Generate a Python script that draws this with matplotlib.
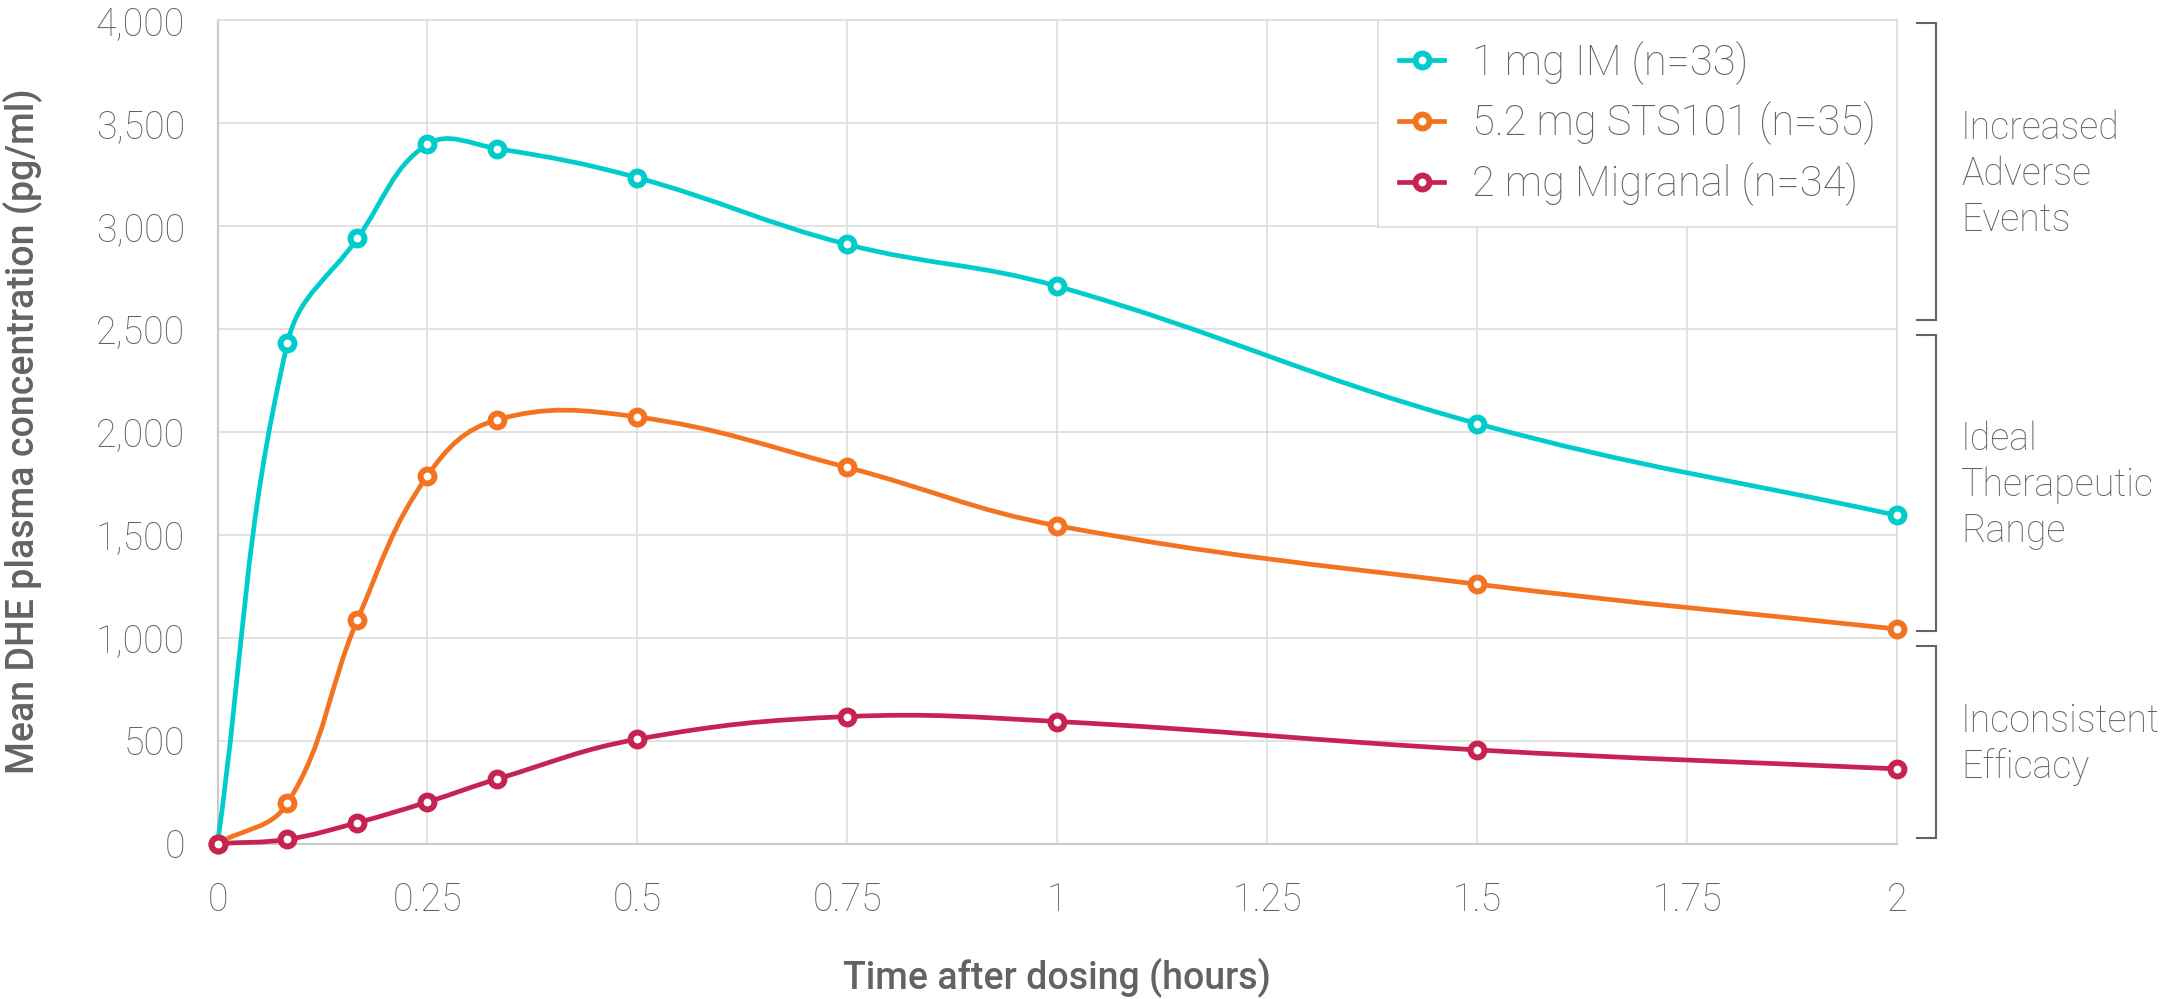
import numpy as np
import matplotlib
matplotlib.use("Agg")
import matplotlib.pyplot as plt
from matplotlib.path import Path
from matplotlib.patches import PathPatch
from matplotlib.lines import Line2D
from matplotlib import transforms
from matplotlib.ticker import FuncFormatter, FixedLocator

plt.rcParams['font.family'] = ['Roboto', 'DejaVu Sans']

# ---------------- data ----------------
time_h = [0, 5/60, 10/60, 15/60, 20/60, 30/60, 45/60, 1.0, 1.5, 2.0]
im_1mg = [0, 2432, 2939, 3396, 3375, 3234, 2910, 2707, 2040, 1594]
sts101 = [0, 196, 1087, 1787, 2059, 2072, 1827, 1544, 1260, 1042]
migranal = [0, 21, 102, 202, 314, 507, 617, 593, 455, 363]

series_labels = ["1 mg IM (n=33)", "5.2 mg STS101 (n=35)", "2 mg Migranal (n=34)"]
series_colors = ["#00CCCC", "#F37321", "#C62252"]

x_ticks = [0, 0.25, 0.5, 0.75, 1, 1.25, 1.5, 1.75, 2]
y_ticks = [0, 500, 1000, 1500, 2000, 2500, 3000, 3500, 4000]

zone_labels = [["Increased", "Adverse", "Events"],
               ["Ideal", "Therapeutic", "Range"],
               ["Inconsistent", "Efficacy"]]
zone_ranges = [(2542, 3984), (1031, 2472), (26, 962)]

x_title = "Time after dosing (hours)"
y_title = "Mean DHE plasma concentration (pg/ml)"

# ---------------- style ----------------
TXT = "#636363"
GRID = "#dddddd"
W, H, DPI = 2165, 999, 100

fig = plt.figure(figsize=(W / DPI, H / DPI), dpi=DPI)
ax = fig.add_axes([217.5 / W, 1 - 843.6 / H, (1897 - 217.5) / W, (843.6 - 20) / H])
ax.set_xlim(0, 2)
ax.set_ylim(0, 4000)

ax.xaxis.set_major_locator(FixedLocator(x_ticks))
ax.yaxis.set_major_locator(FixedLocator(y_ticks))
ax.xaxis.set_major_formatter(FuncFormatter(lambda v, p: f"{v:g}"))
ax.yaxis.set_major_formatter(FuncFormatter(lambda v, p: f"{v:,.0f}"))
ax.grid(True, color=GRID, lw=1.2)
ax.set_axisbelow(True)
ax.tick_params(axis='both', length=0, labelsize=27, labelcolor=TXT)
ax.tick_params(axis='x', pad=27.5)
ax.tick_params(axis='y', pad=23.5)
for lab in ax.get_xticklabels() + ax.get_yticklabels():
    lab.set_fontweight('light')
for s in ['left', 'bottom']:
    ax.spines[s].set_color('#cccccc')
    ax.spines[s].set_linewidth(1.6)
for s in ['top', 'right']:
    ax.spines[s].set_color(GRID)
    ax.spines[s].set_linewidth(1.2)


def spline_path(xs, ys, t=0.4):
    pts = ax.transData.transform(np.column_stack([xs, ys]))
    n = len(pts)
    cprev = np.zeros_like(pts)
    cnext = np.zeros_like(pts)
    for i in range(n):
        cur = pts[i]
        prv = pts[i - 1] if i > 0 else cur
        nxt = pts[i + 1] if i < n - 1 else cur
        d01 = np.hypot(*(cur - prv))
        d12 = np.hypot(*(nxt - cur))
        tot = d01 + d12
        s01 = d01 / tot if tot else 0
        s12 = d12 / tot if tot else 0
        cprev[i] = cur - t * s01 * (nxt - prv)
        cnext[i] = cur + t * s12 * (nxt - prv)
    verts = [pts[0]]
    codes = [Path.MOVETO]
    for i in range(1, n):
        verts += [cnext[i - 1], cprev[i], pts[i]]
        codes += [Path.CURVE4] * 3
    verts = ax.transData.inverted().transform(np.array(verts))
    return Path(verts, codes)


LW, MS, MEW = 3.4, 10, 4.3
handles = []
for k, (vals, col, lab) in enumerate(zip([im_1mg, sts101, migranal], series_colors, series_labels)):
    patch = PathPatch(spline_path(time_h, vals), facecolor='none', edgecolor=col, lw=LW,
                      capstyle='round', joinstyle='round', clip_on=False, zorder=3 + 2 * k)
    ax.add_patch(patch)
    ax.plot(time_h, vals, ls='none', marker='o', ms=MS, mfc='white', mec=col, mew=MEW,
            clip_on=False, zorder=4 + 2 * k)
    handles.append(Line2D([], [], color=col, lw=LW, marker='o', ms=MS, mfc='white',
                          mec=col, mew=MEW))

leg = ax.legend(handles, series_labels, loc='upper right', bbox_to_anchor=(1, 1),
                borderaxespad=0, frameon=True, fancybox=False, framealpha=1,
                edgecolor=GRID, facecolor='white', labelcolor=TXT,
                prop={'family': ['Roboto', 'DejaVu Sans'], 'weight': 'light', 'size': 30},
                handlelength=1.1, handletextpad=0.67, borderpad=0.5, labelspacing=0.41)
leg.get_frame().set_linewidth(1.2)
leg.set_zorder(20)

# brackets on the right
btrans = transforms.blended_transform_factory(ax.transAxes, ax.transData)
x_arm = (1916.5 - 217.5) / 1679.5
x_vert = (1936 - 217.5) / 1679.5
x_txt = (1961 - 217.5) / 1679.5
for (lo, hi), lines in zip(zone_ranges, zone_labels):
    ax.plot([x_arm, x_vert, x_vert, x_arm], [hi, hi, lo, lo], transform=btrans,
            color=TXT, lw=1.5, clip_on=False, solid_joinstyle='miter')
    mid = (lo + hi) / 2
    n = len(lines)
    for i, ln in enumerate(lines):
        dy = -((i - (n - 1) / 2) * 46 + 13.3)
        tr = transforms.offset_copy(btrans, fig=fig, x=0, y=dy, units='dots')
        ax.text(x_txt, mid, ln, transform=tr, ha='left', va='baseline', fontsize=27,
                fontweight='light', color=TXT, clip_on=False)

# axis titles
fig.text(1057 / W, 1 - 988 / H, x_title, ha='center', va='baseline', fontsize=27,
         fontweight='medium', color=TXT)
fig.text(33.5 / W, 1 - 431 / H, y_title, rotation=90, rotation_mode='anchor',
         ha='center', va='baseline', fontsize=27, fontweight='medium', color=TXT)

fig.savefig("out.png", dpi=DPI, facecolor='white')
